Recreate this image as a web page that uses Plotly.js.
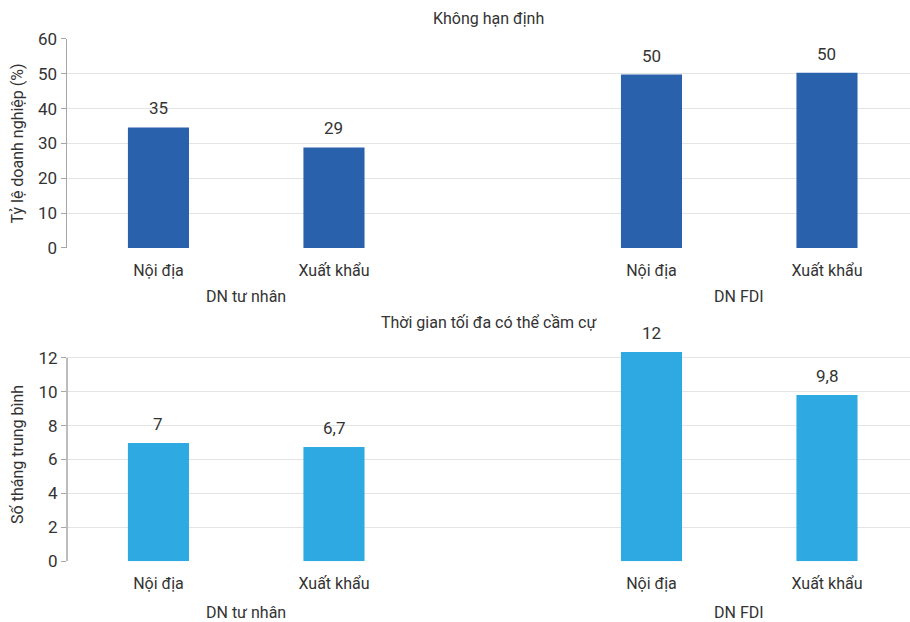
<!DOCTYPE html>
<html>
<head>
<meta charset="utf-8">
<script src="https://cdn.plot.ly/plotly-3.0.1.min.js"></script>
<style>html,body{margin:0;padding:0;background:#fff}#chart{width:910px;height:622px}</style>
</head>
<body>
<div id="chart"></div>
<script>
var categories = ["Nội địa", "Xuất khẩu"];
var groups = ["DN tư nhân", "DN FDI"];
var shareTuNhan = [34.6, 28.85];
var shareFDI = [49.8, 50.3];
var shareLabels = [["35", "29"], ["50", "50"]];
var monthsTuNhan = [6.97, 6.74];
var monthsFDI = [12.33, 9.8];
var monthsLabels = [["7", "6,7"], ["12", "9,8"]];
var titleTop = "Không hạn định";
var titleBottom = "Thời gian tối đa có thể cầm cự";
var yTitleTop = "Tỷ lệ doanh nghiệp (%)";
var yTitleBottom = "Số tháng trung bình";

var FONT = "Roboto, sans-serif";
var C1 = "#2961ac", C2 = "#2ea9e1";
var barW = 0.348;

function bar(x, y, xa, ya, color) {
  return {type: "bar", x: x, y: y, marker: {color: color},
    width: barW, xaxis: xa, yaxis: ya, hoverinfo: "skip", showlegend: false};
}
var data = [
  bar(categories, shareTuNhan, "x", "y", C1),
  bar(categories, shareFDI, "x2", "y", C1),
  bar(categories, monthsTuNhan, "x3", "y2", C2),
  bar(categories, monthsFDI, "x4", "y2", C2)
];

var d1 = 0.5018;
var r1 = [-0.521, 1.889], r2 = [-0.920, 1.473];
function xax(dom, rng, anchor) {
  return {domain: dom, range: rng, anchor: anchor, type: "category", showgrid: false, zeroline: false,
    showline: false, ticks: "outside", ticklen: 8, tickcolor: "rgba(0,0,0,0)",
    tickfont: {family: FONT, size: 16, color: "#333"}, fixedrange: true};
}
function yax(dom, rng, dt, title, anchor, line) {
  return {domain: dom, range: rng, dtick: dt, anchor: anchor,
    showgrid: true, gridcolor: "#e4e4e4", gridwidth: 1.3, zeroline: false,
    showline: line, linecolor: "#a6a6a6", linewidth: 1.5,
    ticks: "outside", ticklen: 5, tickcolor: "#a6a6a6",
    tickfont: {family: FONT, size: 17, color: "#333"},
    title: {text: title, font: {family: FONT, size: 16, color: "#333"}, standoff: 10}, fixedrange: true};
}
var topDom = [0.6013, 0.9373], botDom = [0.0976, 0.4413];
function ann(text, xref, x, y, size) {
  return {text: text, xref: xref, yref: "paper", x: x, y: y, yanchor: "middle", xanchor: "center",
    showarrow: false, font: {family: FONT, size: size, color: "#333"}};
}
function valueLabels(vals, labels, xref, yref) {
  return vals.map(function (v, i) {
    return {text: labels[i], xref: xref, yref: yref, x: categories[i], y: v,
      yanchor: "bottom", xanchor: "center", yshift: 7, showarrow: false,
      font: {family: FONT, size: 17, color: "#333"}};
  });
}
var annotations = [
  ann(titleTop, "paper", 0.5, 0.971, 16),
  ann(titleBottom, "paper", 0.5, 0.482, 16),
  ann(groups[0], "x", 0.5, 0.524, 16),
  ann(groups[1], "x2", 0.5, 0.524, 16),
  ann(groups[0], "x3", 0.5, 0.016, 16),
  ann(groups[1], "x4", 0.5, 0.016, 16)
].concat(
  valueLabels(shareTuNhan, shareLabels[0], "x", "y"),
  valueLabels(shareFDI, shareLabels[1], "x2", "y"),
  valueLabels(monthsTuNhan, monthsLabels[0], "x3", "y2"),
  valueLabels(monthsFDI, monthsLabels[1], "x4", "y2")
);
var layout = {
  width: 910, height: 622,
  margin: {l: 67, r: 0, t: 0, b: 0},
  paper_bgcolor: "#fff", plot_bgcolor: "rgba(0,0,0,0)",
  font: {family: FONT, color: "#333"},
  xaxis: xax([0, d1], r1, "y"),
  xaxis2: xax([d1, 1], r2, "y"),
  xaxis3: xax([0, d1], r1, "y2"),
  xaxis4: xax([d1, 1], r2, "y2"),
  yaxis: yax(topDom, [0, 60], 10, yTitleTop, "x", true),
  yaxis2: yax(botDom, [0, 12.6], 2, yTitleBottom, "x3", false),
  shapes: [
    {type: "line", xref: "paper", yref: "y2", x0: 0, x1: 0, y0: 0, y1: 12,
     line: {color: "#a6a6a6", width: 1.5}, layer: "above"}
  ],
  annotations: annotations
};
Plotly.newPlot("chart", data, layout, {displayModeBar: false, staticPlot: true});
</script>
</body>
</html>
